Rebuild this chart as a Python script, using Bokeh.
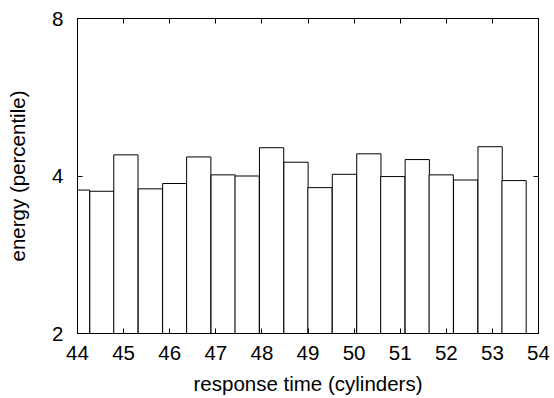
from bokeh.plotting import figure
from bokeh.models import Range1d, LogAxis, LinearAxis, FixedTicker, CustomJSTickFormatter
from bokeh.embed import file_html
from bokeh.resources import INLINE

# data
x_centers = [44.0, 44.53, 45.05, 45.58, 46.11, 46.63, 47.16, 47.68, 48.21, 48.74,
             49.26, 49.79, 50.32, 50.84, 51.37, 51.89, 52.42, 52.95, 53.47]
energy = [3.76, 3.74, 4.39, 3.78, 3.87, 4.35, 4.02, 4.00, 4.53, 4.25,
          3.80, 4.03, 4.41, 3.99, 4.30, 4.02, 3.93, 4.55, 3.92]
bar_width = 0.526
x_ticks = [44, 45, 46, 47, 48, 49, 50, 51, 52, 53, 54]
y_ticks = [2, 4, 8]

FONT = "Liberation Sans"

p = figure(width=554, height=398, output_backend="svg", toolbar_location=None,
           x_range=Range1d(44, 54), y_range=Range1d(2, 8), y_axis_type="log",
           min_border_left=77, min_border_right=16, min_border_top=18, min_border_bottom=65)
p.frame_width = 461
p.frame_height = 315

p.vbar(x=x_centers, top=energy, bottom=2, width=bar_width,
       fill_color="white", line_color="black", line_width=1)

p.grid.visible = False
p.outline_line_color = "black"
p.outline_line_width = 1
p.outline_line_alpha = 1
p.background_fill_color = "white"
p.border_fill_color = "white"

for ax in [p.xaxis[0], p.yaxis[0]]:
    ax.major_tick_in = 5
    ax.major_tick_out = 0
    ax.minor_tick_in = 0
    ax.minor_tick_out = 0
    ax.axis_line_color = "black"
    ax.major_tick_line_color = "black"
    ax.major_label_text_font = FONT
    ax.major_label_text_font_size = "20.5px"
    ax.major_label_text_color = "black"
    ax.axis_label_text_font = FONT
    ax.axis_label_text_font_size = "20.5px"
    ax.axis_label_text_font_style = "normal"
    ax.axis_label_text_color = "black"

p.xaxis[0].ticker = FixedTicker(ticks=x_ticks)
p.yaxis[0].ticker = FixedTicker(ticks=y_ticks)
p.yaxis[0].formatter = CustomJSTickFormatter(code="return tick.toFixed(0);")
p.xaxis[0].axis_label = "response time (cylinders)"
p.yaxis[0].axis_label = "energy (percentile)"
p.xaxis[0].major_label_standoff = 12
p.yaxis[0].major_label_standoff = 14
p.xaxis[0].axis_label_standoff = 9
p.yaxis[0].axis_label_standoff = 20

blank = CustomJSTickFormatter(code="return '';")
top_ax = LinearAxis(ticker=FixedTicker(ticks=x_ticks), formatter=blank,
                    major_tick_in=5, major_tick_out=0, minor_tick_in=0, minor_tick_out=0,
                    axis_line_color="black", major_tick_line_color="black")
right_ax = LogAxis(ticker=FixedTicker(ticks=y_ticks), formatter=CustomJSTickFormatter(code="return '';"),
                   major_tick_in=5, major_tick_out=0, minor_tick_in=0, minor_tick_out=0,
                   axis_line_color="black", major_tick_line_color="black")
p.add_layout(top_ax, "above")
p.add_layout(right_ax, "right")

open("out.html", "w").write(file_html(p, INLINE))
